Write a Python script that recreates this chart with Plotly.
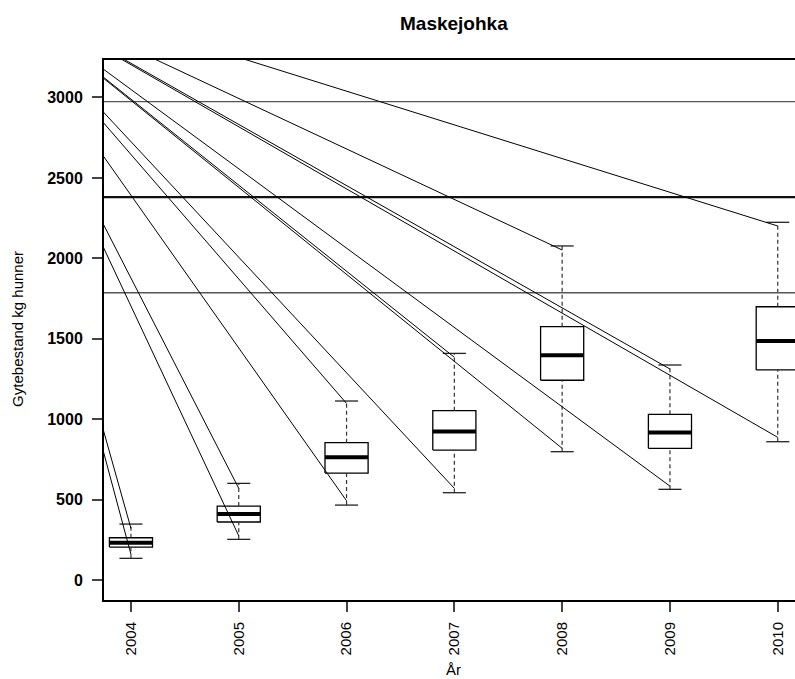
import plotly.graph_objects as go

# Yearly spawning-stock distributions (kg females)
years = ["2004", "2005", "2006", "2007", "2008", "2009", "2010"]
whisker_low = [135, 253, 466, 543, 798, 564, 860]
q1 = [205, 361, 665, 808, 1242, 819, 1306]
median = [232, 410, 763, 924, 1397, 918, 1486]
q3 = [263, 460, 854, 1053, 1575, 1030, 1699]
whisker_high = [348, 601, 1113, 1409, 2077, 1337, 2224]

# Rays drawn from a common origin to each year's upper and lower end
ray_origin_x = -0.44
ray_origin_y = 3760
ray_end_high = [321, 570, 1098, 1385, 2052, 1312, 2201]
ray_end_low = [160, 275, 493, 570, 819, 584, 887]

# Horizontal reference levels
ref_levels = [2974, 2381, 1786]

FONT = "Liberation Sans, Arial, Helvetica, sans-serif"
BOX_HALF = 0.2
CAP_HALF = 0.107
X_RANGE = [0.75, 7.16]
Y_RANGE = [-124, 3233]

pos = list(range(1, len(years) + 1))

fig = go.Figure()

# boxes
bx, by = [], []
for p, lo, hi in zip(pos, q1, q3):
    bx += [p - BOX_HALF, p + BOX_HALF, p + BOX_HALF, p - BOX_HALF, p - BOX_HALF, None]
    by += [lo, lo, hi, hi, lo, None]
fig.add_trace(go.Scatter(x=bx, y=by, mode="lines", fill="toself", fillcolor="white",
                         line=dict(color="black", width=1.3), hoverinfo="skip"))

# dashed whiskers
wx, wy = [], []
for p, wl, lo, hi, wh in zip(pos, whisker_low, q1, q3, whisker_high):
    wx += [p, p, None, p, p, None]
    wy += [wl, lo, None, hi, wh, None]
fig.add_trace(go.Scatter(x=wx, y=wy, mode="lines",
                         line=dict(color="#333333", width=1.2, dash="4px,3px"), hoverinfo="skip"))

# whisker caps
cx, cy = [], []
for p, wl, wh in zip(pos, whisker_low, whisker_high):
    cx += [p - CAP_HALF, p + CAP_HALF, None, p - CAP_HALF, p + CAP_HALF, None]
    cy += [wl, wl, None, wh, wh, None]
fig.add_trace(go.Scatter(x=cx, y=cy, mode="lines",
                         line=dict(color="#222222", width=1.3), hoverinfo="skip"))

# medians
mx, my = [], []
for p, m in zip(pos, median):
    mx += [p - BOX_HALF, p + BOX_HALF, None]
    my += [m, m, None]
fig.add_trace(go.Scatter(x=mx, y=my, mode="lines",
                         line=dict(color="black", width=4), hoverinfo="skip"))

# reference levels
ref_styles = [dict(color="#555555", width=1.3), dict(color="#111111", width=2.3),
              dict(color="#555555", width=1.3)]
for lvl, st in zip(ref_levels, ref_styles):
    fig.add_trace(go.Scatter(x=X_RANGE, y=[lvl, lvl], mode="lines", line=st, hoverinfo="skip"))

# rays
rx, ry = [], []
for p, hi, lo in zip(pos, ray_end_high, ray_end_low):
    rx += [ray_origin_x, p, None, ray_origin_x, p, None]
    ry += [ray_origin_y, hi, None, ray_origin_y, lo, None]
fig.add_trace(go.Scatter(x=rx, y=ry, mode="lines",
                         line=dict(color="black", width=1), hoverinfo="skip"))

fig.update_layout(
    width=795, height=679,
    margin=dict(l=104, r=0, t=60, b=79),
    paper_bgcolor="white", plot_bgcolor="white",
    showlegend=False,
    font=dict(family=FONT, color="black"),
    xaxis=dict(range=X_RANGE, tickvals=pos, ticktext=years, tickangle=-90,
               ticks="outside", ticklen=10, tickwidth=1.5, tickcolor="#444444",
               ticklabelstandoff=4,
               showline=True, linewidth=2, linecolor="black", mirror=True,
               showgrid=False, zeroline=False,
               tickfont=dict(family=FONT, size=15, color="black")),
    yaxis=dict(range=Y_RANGE, tickvals=[0, 500, 1000, 1500, 2000, 2500, 3000],
               ticks="outside", ticklen=10, tickwidth=1.5, tickcolor="#444444",
               ticklabelstandoff=6,
               showline=True, linewidth=2, linecolor="black",
               showgrid=False, zeroline=False,
               tickfont=dict(family=FONT, size=16, color="black", weight="bold")),
    annotations=[
        dict(text="Maskejohka", xref="paper", yref="paper", x=0.5065, y=1.0685,
             xanchor="center", yanchor="middle", showarrow=False,
             font=dict(family=FONT, size=19, color="black", weight="bold")),
        dict(text="Gytebestand kg hunner", xref="paper", yref="paper", x=-0.1245, y=0.502,
             xanchor="center", yanchor="middle", textangle=-90, showarrow=False,
             font=dict(family=FONT, size=15, color="black")),
        dict(text="År", xref="paper", yref="paper", x=0.5065, y=-0.1296,
             xanchor="center", yanchor="middle", showarrow=False,
             font=dict(family=FONT, size=15, color="black")),
    ],
)

fig.write_html("out.html")
